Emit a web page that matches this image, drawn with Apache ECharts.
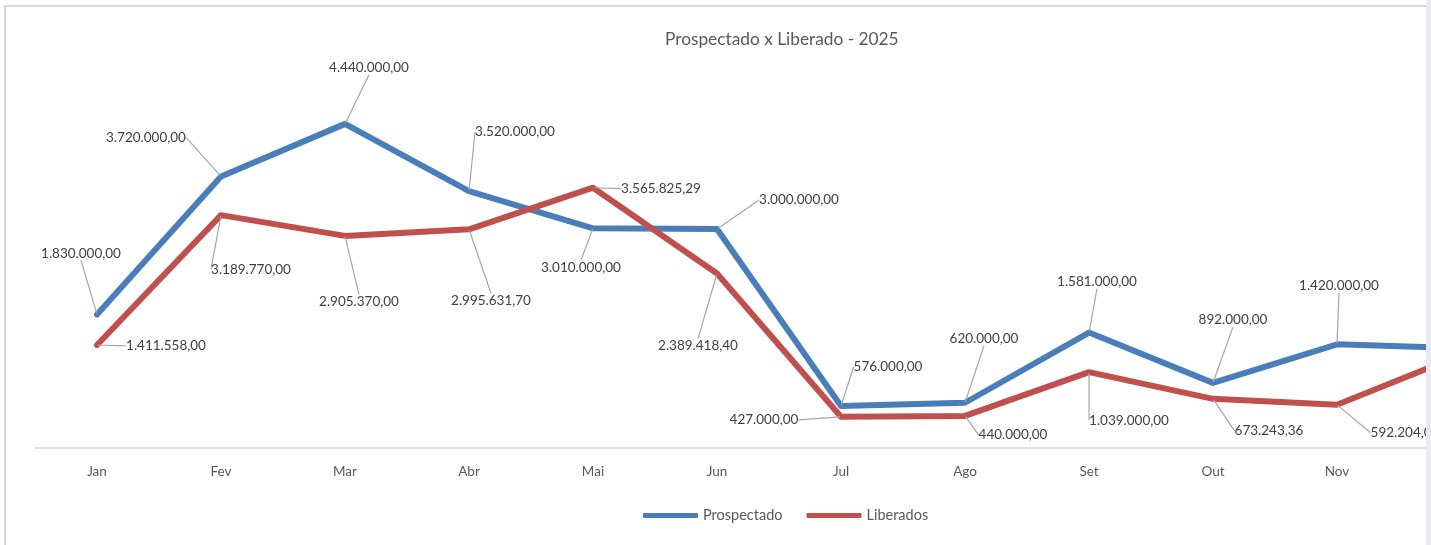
<!DOCTYPE html>
<html>
<head>
<meta charset="utf-8">
<script src="https://cdn.jsdelivr.net/npm/echarts@6/dist/echarts.min.js"></script>
<style>
html,body{margin:0;padding:0;background:#fff;}
#c{width:1431px;height:545px;}
</style>
</head>
<body>
<div id="c"></div>
<script>
const months = ['Jan','Fev','Mar','Abr','Mai','Jun','Jul','Ago','Set','Out','Nov','Dez'];
const prospectado = [1830000, 3720000, 4440000, 3520000, 3010000, 3000000, 576000, 620000, 1581000, 892000, 1420000, 1367000];
const liberados = [1411558.00, 3189770.00, 2905370.00, 2995631.70, 3565825.29, 2389418.40, 427000.00, 440000.00, 1039000.00, 673243.36, 592204.03, 1274000];
const titleText = 'Prospectado x Liberado - 2025';

// label offsets (px) from each point, style only
const blueOff = [[-16,-61],[-75,-39],[24,-56],[46,-59],[-12,39],[82,-29],[47,-39],[19,-64],[8,-51],[20,-63],[2,-59],[10,-60]];
const redOff = [[69,1],[30,54],[14,66],[22,71],[68,1],[-19,72],[-77,3],[48,19],[40,48],[56,32],[68,28],[60,30]];

function fmt(v){
  const parts = v.toFixed(2).split('.');
  return parts[0].replace(/\B(?=(\d{3})+(?!\d))/g,'.') + ',' + parts[1];
}

const chart = echarts.init(document.getElementById('c'), null, {renderer:'canvas'});
const FONT = 'Lato';
function mkLayout(off){
  return function(p){
    const o = off[p.dataIndex];
    return {
      x: p.rect.x + p.rect.width/2 + o[0],
      y: p.rect.y + p.rect.height/2 + o[1],
      align: 'center',
      verticalAlign: 'middle'
    };
  };
}
function mkSeries(name, data, color, off){
  return {
    name: name,
    type: 'line',
    data: data,
    symbol: 'circle',
    symbolSize: 2,
    showSymbol: true,
    itemStyle: {color: color},
    lineStyle: {color: color, width: 6, cap: 'round', join: 'round'},
    animation: false,
    label: {
      show: true,
      formatter: function(p){ return fmt(p.value); },
      fontFamily: FONT,
      fontSize: 13.5,
      color: '#404040'
    },
    labelLine: {show: true, lineStyle: {color: '#a6a6a6', width: 1.2}},
    labelLayout: mkLayout(off),
    emphasis: {disabled: true}
  };
}

chart.setOption({
  backgroundColor: '#ffffff',
  animation: false,
  title: {
    text: titleText,
    left: 660,
    top: 26,
    textStyle: {fontFamily: FONT, fontSize: 17.3, fontWeight: 'normal', color: '#595959'}
  },
  legend: {
    data: ['Prospectado','Liberados'],
    left: 638,
    top: 503,
    icon: 'roundRect',
    itemWidth: 55,
    itemHeight: 5,
    itemGap: 24,
    textStyle: {fontFamily: FONT, fontSize: 14.5, color: '#595959'}
  },
  grid: {left: 35, width: 1488, top: 83, bottom: 97, containLabel: false, outerBoundsMode: 'none'},
  xAxis: {
    type: 'category',
    data: months,
    boundaryGap: true,
    axisLine: {lineStyle: {color: '#d9d9d9', width: 1.5}},
    axisTick: {show: false},
    axisLabel: {fontFamily: FONT, fontSize: 13.5, color: '#595959', margin: 17}
  },
  yAxis: {
    type: 'value',
    min: 0,
    max: 5000000,
    show: false,
    splitLine: {show: false}
  },
  graphic: [
    {type: 'rect', z: 100, shape: {x: 5, y: 6, width: 1600, height: 700}, style: {fill: 'none', stroke: '#d9d9d9', lineWidth: 2}},
    {type: 'rect', z: 101, shape: {x: 1426, y: 0, width: 5, height: 545}, style: {fill: '#ebe9f0'}}
  ],
  series: [
    mkSeries('Prospectado', prospectado, '#4a7ebb', blueOff),
    mkSeries('Liberados', liberados, '#c0504d', redOff)
  ]
});
</script>
</body>
</html>
